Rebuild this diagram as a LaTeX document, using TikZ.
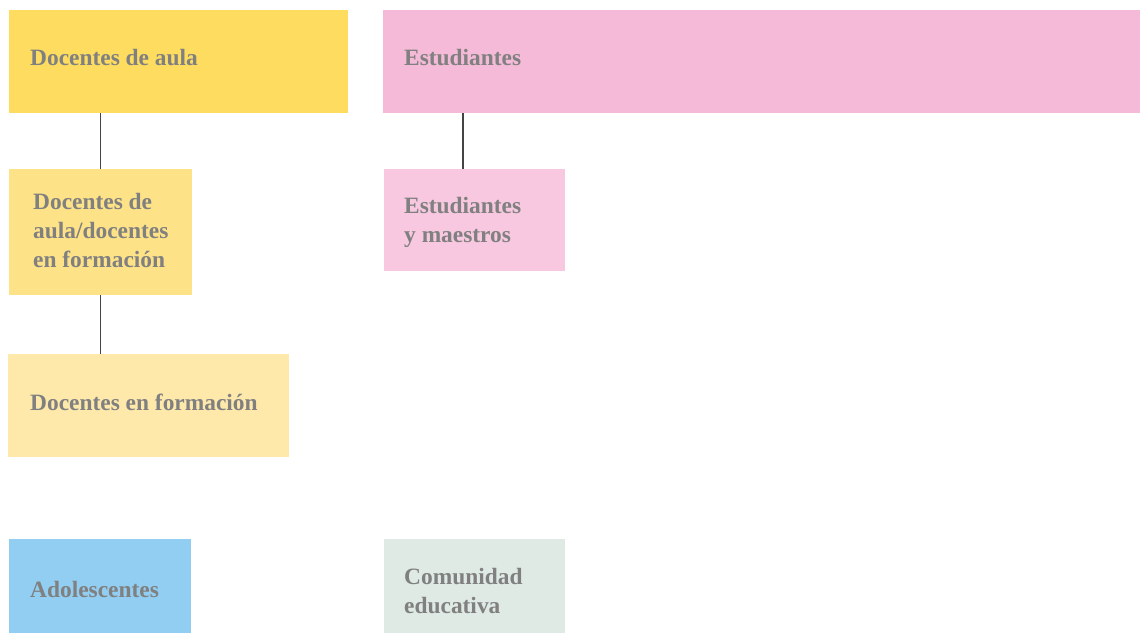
\documentclass[tikz,border=0pt]{standalone}
\usepackage{fontspec}
\setmainfont{Liberation Serif}
\definecolor{cA}{HTML}{FDDC60}
\definecolor{cB}{HTML}{F5BAD7}
\definecolor{cC}{HTML}{FDE287}
\definecolor{cD}{HTML}{F7C8DF}
\definecolor{cE}{HTML}{FEE9AB}
\definecolor{cF}{HTML}{91CEF1}
\definecolor{cG}{HTML}{DEEAE3}
\definecolor{txt}{HTML}{808080}
\definecolor{ln}{HTML}{444444}
\begin{document}
\begin{tikzpicture}[x=1pt,y=-1pt,
  box/.style={draw=none,inner sep=0pt,outer sep=0pt,anchor=north west,rectangle},
  lbl/.style={anchor=base west,inner sep=0pt,text=txt,align=left,font=\fontsize{23.4}{28.7}\selectfont\bfseries},
  conn/.style={draw=ln,line width=1.1pt}]
\useasboundingbox (0,0) rectangle (1140,633);
\node[box,fill=cA,minimum width=339pt,minimum height=103pt] (b1) at (9,10) {};
\node[box,fill=cB,minimum width=757pt,minimum height=103pt] (b2) at (383,10) {};
\node[box,fill=cC,minimum width=183pt,minimum height=126pt] (b3) at (9,169) {};
\node[box,fill=cD,minimum width=181pt,minimum height=102pt] (b4) at (384,169) {};
\node[box,fill=cE,minimum width=281pt,minimum height=103pt] (b5) at (8,354) {};
\node[box,fill=cF,minimum width=182pt,minimum height=94pt] (b6) at (9,539) {};
\node[box,fill=cG,minimum width=181pt,minimum height=94pt] (b7) at (384,539) {};
\node[lbl] (t1) at (30,65) {Docentes de aula};
\node[lbl] (t2) at (404,65) {Estudiantes};
\node[lbl] (t3) at (33,267) {Docentes de\\aula/docentes\\en formación};
\node[lbl] (t4) at (404,242) {Estudiantes\\y maestros};
\node[lbl] (t5) at (30,410) {Docentes en formación};
\node[lbl] (t6) at (30,597) {Adolescentes};
\node[lbl] (t7) at (404,613) {Comunidad\\educativa};
\draw[conn] (b3.north) -- (b3.north |- b1.south);
\draw[conn] (b3.south) -- (b3.south |- b5.north);
\draw[conn] ([xshift=-11.5pt]b4.north) -- ([xshift=-11.5pt]b4.north |- b2.south);
\end{tikzpicture}
\end{document}
